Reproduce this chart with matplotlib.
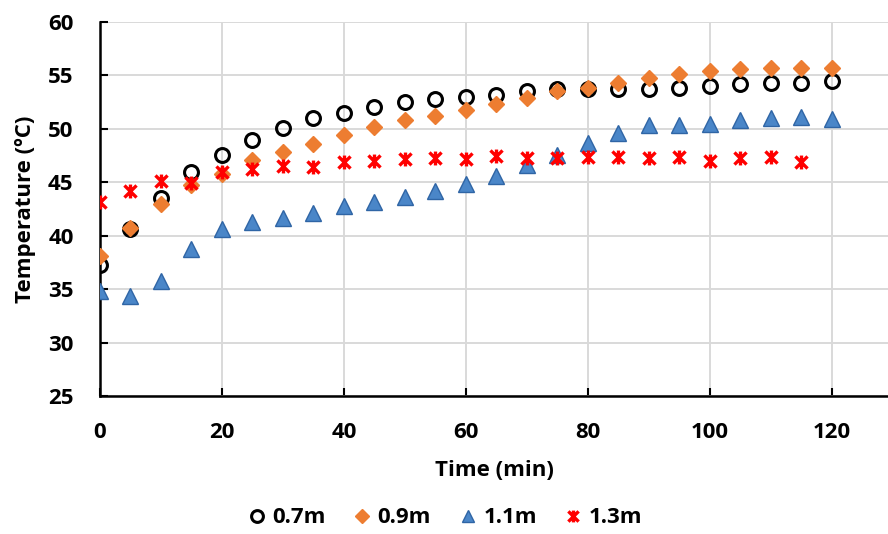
import numpy as np
import matplotlib
matplotlib.use('Agg')
import matplotlib.pyplot as plt
from matplotlib.path import Path

plt.rcParams['font.family'] = ['Open Sans', 'DejaVu Sans']
plt.rcParams['font.weight'] = 'bold'

# data
time = [0, 5, 10, 15, 20, 25, 30, 35, 40, 45, 50, 55, 60,
        65, 70, 75, 80, 85, 90, 95, 100, 105, 110, 115, 120]
t_07 = [37.3, 40.6, 43.5, 46.0, 47.6, 49.0, 50.1, 51.0, 51.5, 52.0, 52.5, 52.8, 53.0,
        53.2, 53.5, 53.7, 53.7, 53.75, 53.7, 53.85, 54.0, 54.2, 54.3, 54.3, 54.5]
t_09 = [38.1, 40.7, 43.0, 44.7, 45.8, 47.1, 47.8, 48.6, 49.4, 50.2, 50.8, 51.2, 51.8,
        52.3, 52.9, 53.5, 53.8, 54.3, 54.8, 55.1, 55.4, 55.6, 55.7, 55.7, 55.7]
t_11 = [34.8, 34.4, 35.8, 38.8, 40.6, 41.3, 41.7, 42.1, 42.8, 43.2, 43.6, 44.2, 44.8,
        45.6, 46.6, 47.6, 48.7, 49.6, 50.4, 50.4, 50.5, 50.8, 51.0, 51.1, 50.9]
time_13 = time[:-1]
t_13 = [43.2, 44.2, 45.1, 44.9, 46.0, 46.2, 46.5, 46.4, 46.9, 47.0, 47.2, 47.3, 47.2,
        47.5, 47.3, 47.3, 47.4, 47.4, 47.3, 47.4, 47.0, 47.3, 47.4, 46.9]
labels = ['0.7m', '0.9m', '1.1m', '1.3m']

# Excel style star: an X with a vertical stroke
star = Path([(-1, -1), (1, 1), (-1, 1), (1, -1), (0, -1.15), (0, 1.15)],
            [Path.MOVETO, Path.LINETO, Path.MOVETO, Path.LINETO, Path.MOVETO, Path.LINETO])

fs = 16

fig = plt.figure(figsize=(8.88, 5.34), dpi=100)
ax = fig.add_axes([0.1126, 0.2584, 0.8874, 0.7004])

ax.plot(time, t_07, 'o', ms=10, mfc='none', mec='black', mew=2.2, label=labels[0], zorder=3)
ax.plot(time, t_09, 'D', ms=8.5, color='#ED7D31', mec='#ED7D31', label=labels[1], zorder=3)
ax.plot(time, t_11, '^', ms=11, color='#4A86C8', mec='#2F65A5', mew=1, label=labels[2], zorder=3)
ax.plot(time_13, t_13, ls='none', marker=star, ms=10, mec='#FF0000', mew=2.4, label=labels[3], zorder=3)

ax.set_xlim(0, 129.2)
ax.set_ylim(25, 60)
ax.set_xticks(np.arange(0, 121, 20))
ax.set_yticks(np.arange(25, 61, 5))
ax.grid(True, color='#d9d9d9', lw=1.4)
ax.set_axisbelow(True)
for s in ['top', 'right']:
    ax.spines[s].set_visible(False)
for s in ['left', 'bottom']:
    ax.spines[s].set_linewidth(1.8)
    ax.spines[s].set_color('black')
ax.tick_params(direction='in', length=6, width=1.5, labelsize=fs, pad=19)
ax.tick_params(axis='y', pad=19)
for lab in ax.get_xticklabels() + ax.get_yticklabels():
    lab.set_fontweight('bold')

ax.set_xlabel('Time (min)', fontsize=fs, fontweight='bold', va='center')
ax.set_ylabel('Temperature (ºC)', fontsize=fs, fontweight='bold', va='center')
ax.xaxis.set_label_coords(0.5, -0.2)
ax.yaxis.set_label_coords(-0.095, 0.5)

fig.legend(loc='center', bbox_to_anchor=(0.5, 0.03), ncol=4, frameon=False,
           prop={'size': fs, 'weight': 'bold'}, handletextpad=0.2, columnspacing=1.15,
           markerscale=0.85, handlelength=1.0)

plt.savefig('out.png', dpi=100)
